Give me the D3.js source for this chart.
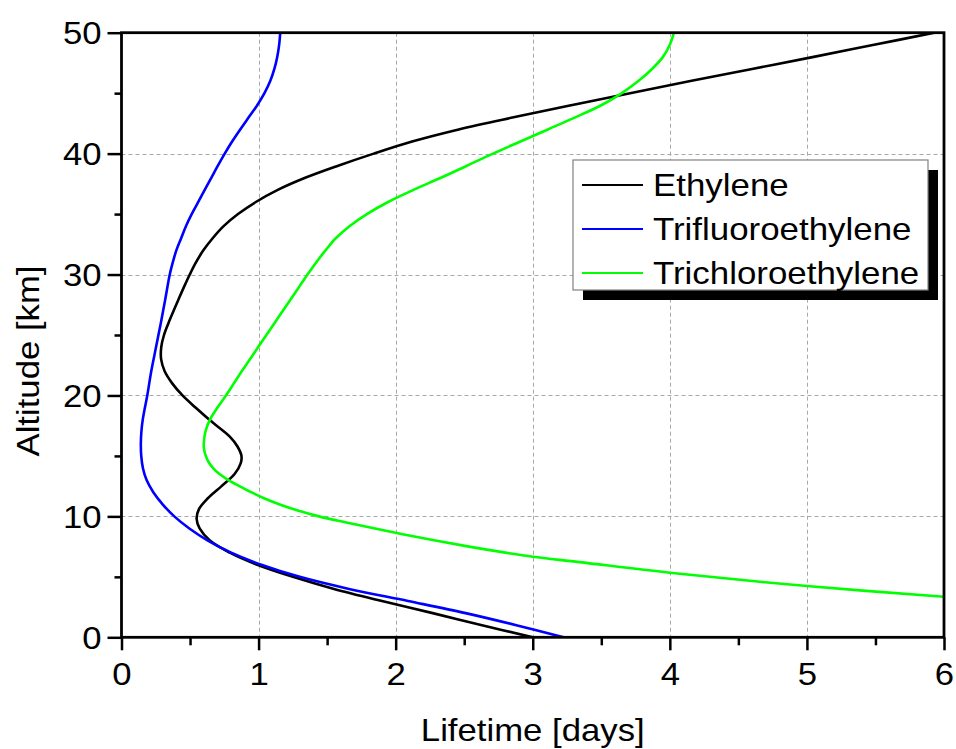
<!DOCTYPE html>
<html>
<head>
<meta charset="utf-8">
<script src="https://cdn.jsdelivr.net/npm/d3@7"></script>
<style>
  html, body { margin: 0; padding: 0; background: #ffffff; }
  svg { display: block; }
  text { font-family: "Liberation Sans", Arial, sans-serif; fill: #000; }
</style>
</head>
<body>
<svg id="chart" width="956" height="749"></svg>
<script>
// Atmospheric lifetime profiles: [lifetime (days), altitude (km)]
const ethylene = [
  [3.00, 0], [2.63, 1], [2.27, 2], [1.90, 3], [1.55, 4], [1.25, 5], [0.99, 6],
  [0.79, 7], [0.645, 8], [0.57, 9], [0.548, 9.8], [0.565, 10.6], [0.63, 11.5],
  [0.73, 12.5], [0.825, 13.5], [0.87, 14.4], [0.875, 15.0], [0.845, 15.8],
  [0.79, 16.6], [0.65, 17.9], [0.54, 19], [0.445, 20], [0.37, 21], [0.315, 22],
  [0.289, 23], [0.29, 24], [0.31, 25], [0.343, 26], [0.38, 27], [0.418, 28],
  [0.457, 29], [0.498, 30], [0.543, 31], [0.597, 32], [0.665, 33], [0.745, 34],
  [0.85, 35], [0.98, 36], [1.14, 37], [1.34, 38], [1.58, 39], [1.84, 40],
  [2.12, 41], [2.46, 42], [2.86, 43], [3.28, 44], [3.71, 45], [4.15, 46],
  [4.60, 47], [5.05, 48], [5.49, 49], [5.93, 50]
];
const trifluoroethylene = [
  [3.225, 0], [2.88, 1], [2.51, 2], [2.09, 3], [1.66, 4], [1.30, 5], [1.02, 6],
  [0.80, 7], [0.63, 8], [0.495, 9], [0.385, 10], [0.30, 11], [0.232, 12],
  [0.183, 13], [0.156, 14], [0.144, 15], [0.141, 16], [0.145, 17], [0.155, 18],
  [0.171, 19], [0.188, 20], [0.217, 22], [0.252, 24], [0.287, 26], [0.32, 28],
  [0.352, 30], [0.374, 31], [0.40, 32], [0.435, 33], [0.47, 34], [0.512, 35],
  [0.56, 36], [0.607, 37], [0.655, 38], [0.703, 39], [0.753, 40], [0.807, 41],
  [0.866, 42], [0.928, 43], [0.99, 44], [1.043, 45], [1.085, 46], [1.115, 47],
  [1.136, 48], [1.15, 49], [1.158, 50]
];
const trichloroethylene = [
  [6.00, 3.35], [5.00, 4.24], [4.00, 5.34], [3.34, 6.22], [3.00, 6.66],
  [2.80, 7], [2.535, 7.5], [2.29, 8], [2.06, 8.5], [1.85, 9], [1.64, 9.5],
  [1.44, 10], [1.28, 10.5], [1.15, 11], [1.04, 11.5], [0.945, 12], [0.86, 12.5],
  [0.78, 13], [0.715, 13.5], [0.668, 14], [0.635, 14.5], [0.615, 15],
  [0.603, 15.5], [0.60, 16], [0.612, 17], [0.645, 18], [0.70, 19], [0.762, 20],
  [0.82, 21], [0.877, 22], [0.937, 23], [0.997, 24], [1.057, 25], [1.117, 26],
  [1.177, 27], [1.237, 28], [1.297, 29], [1.357, 30], [1.42, 31], [1.488, 32],
  [1.563, 33], [1.663, 34], [1.79, 35], [1.945, 36], [2.13, 37], [2.33, 38],
  [2.52, 39], [2.71, 40], [2.91, 41], [3.11, 42], [3.31, 43], [3.50, 44],
  [3.65, 45], [3.77, 46], [3.87, 47], [3.95, 48], [4.00, 49], [4.03, 50]
];

const seriesNames = ["Ethylene", "Trifluoroethylene", "Trichloroethylene"];
const seriesData = [ethylene, trifluoroethylene, trichloroethylene];
const seriesColors = ["#000000", "#0000ff", "#00ff00"];

const lifetimeTicks = [0, 1, 2, 3, 4, 5, 6];
const lifetimeMinorTicks = [0.5, 1.5, 2.5, 3.5, 4.5, 5.5];
const altitudeTicks = [0, 10, 20, 30, 40, 50];
const altitudeMinorTicks = [5, 15, 25, 35, 45];

const xLabel = "Lifetime [days]";
const yLabel = "Altitude [km]";

// ---- layout ----
const plotL = 121.5, plotR = 944, plotT = 32.7, plotB = 637.3;
const stretch = 1.12;   // the labels use a slightly wide typeface

const svg = d3.select("#chart");
const x = d3.scaleLinear().domain([0, 6]).range([plotL, plotR]);
const y = d3.scaleLinear().domain([0, 50]).range([plotB, plotT]);

svg.append("defs").append("clipPath").attr("id", "plot-clip")
  .append("rect").attr("x", plotL).attr("y", plotT)
  .attr("width", plotR - plotL).attr("height", plotB - plotT);

// grid
const grid = svg.append("g").attr("stroke", "#a8a8a8").attr("stroke-width", 1)
  .attr("stroke-dasharray", "4,3");
grid.selectAll("line.v").data(lifetimeTicks.slice(1, -1)).join("line")
  .attr("class", "v")
  .attr("x1", d => Math.round(x(d)) + 0.5).attr("x2", d => Math.round(x(d)) + 0.5)
  .attr("y1", plotT).attr("y2", plotB);
grid.selectAll("line.h").data(altitudeTicks.slice(1, -1)).join("line")
  .attr("class", "h")
  .attr("y1", d => Math.round(y(d)) + 0.5).attr("y2", d => Math.round(y(d)) + 0.5)
  .attr("x1", plotL).attr("x2", plotR);

// curves
const line = d3.line()
  .x(d => x(d[0])).y(d => y(d[1]))
  .curve(d3.curveCatmullRom.alpha(0.5));
svg.append("g").attr("clip-path", "url(#plot-clip)")
  .selectAll("path").data(seriesData).join("path")
  .attr("d", line)
  .attr("fill", "none")
  .attr("stroke", (d, i) => seriesColors[i])
  .attr("stroke-width", 2.6)
  .attr("stroke-linejoin", "round");

// axes
function styleAxis(g) {
  g.select(".domain").remove();
  g.selectAll(".tick line").attr("stroke", "#000").attr("stroke-width", 2.5);
}
svg.append("g").attr("transform", `translate(0,${plotB})`)
  .call(d3.axisBottom(x).tickValues(lifetimeMinorTicks).tickSize(8).tickFormat(""))
  .call(styleAxis);
const xAxis = svg.append("g").attr("transform", `translate(0,${plotB})`)
  .call(d3.axisBottom(x).tickValues(lifetimeTicks).tickSize(13).tickFormat(d3.format("d")))
  .call(styleAxis);
svg.append("g").attr("transform", `translate(${plotL},0)`)
  .call(d3.axisLeft(y).tickValues(altitudeMinorTicks).tickSize(7).tickFormat(""))
  .call(styleAxis);
const yAxis = svg.append("g").attr("transform", `translate(${plotL},0)`)
  .call(d3.axisLeft(y).tickValues(altitudeTicks).tickSize(14).tickFormat(d3.format("d")))
  .call(styleAxis);

xAxis.selectAll(".tick text")
  .attr("y", 0).attr("dy", 0)
  .attr("transform", `translate(0,48) scale(${stretch},1)`)
  .attr("font-size", 31).attr("font-family", "Liberation Sans, Arial, sans-serif")
  .attr("fill", "#000");
yAxis.selectAll(".tick text")
  .attr("x", 0).attr("dy", 0)
  .attr("transform", `translate(-20,11) scale(${stretch},1)`)
  .attr("font-size", 31).attr("font-family", "Liberation Sans, Arial, sans-serif")
  .attr("fill", "#000");

// frame
svg.append("rect")
  .attr("x", plotL).attr("y", plotT)
  .attr("width", plotR - plotL).attr("height", plotB - plotT)
  .attr("fill", "none").attr("stroke", "#000").attr("stroke-width", 2.8);

// axis titles
svg.append("text")
  .attr("transform", `translate(${(plotL + plotR) / 2},741) scale(${stretch},1)`)
  .attr("text-anchor", "middle").attr("font-size", 31)
  .text(xLabel);
svg.append("text")
  .attr("transform", `translate(39,${(plotT + plotB) / 2 + 26}) rotate(-90) scale(${stretch},1)`)
  .attr("text-anchor", "middle").attr("font-size", 31)
  .text(yLabel);

// legend
const lg = { x: 573, y: 160, w: 355, h: 130, shadow: 10 };
svg.append("rect")
  .attr("x", lg.x + lg.shadow).attr("y", lg.y + lg.shadow)
  .attr("width", lg.w).attr("height", lg.h).attr("fill", "#000");
svg.append("rect")
  .attr("x", lg.x).attr("y", lg.y).attr("width", lg.w).attr("height", lg.h)
  .attr("fill", "#fff").attr("stroke", "#808080").attr("stroke-width", 1.2);
const rows = svg.append("g").selectAll("g").data(seriesNames).join("g")
  .attr("transform", (d, i) => `translate(${lg.x},${lg.y + 25 + i * 44})`);
rows.append("line")
  .attr("x1", 9).attr("x2", 70).attr("y1", 0).attr("y2", 0)
  .attr("stroke", (d, i) => seriesColors[i]).attr("stroke-width", 2);
rows.append("text")
  .attr("transform", `translate(80,11) scale(1.09,1)`)
  .attr("font-size", 32)
  .text(d => d);
</script>
</body>
</html>
